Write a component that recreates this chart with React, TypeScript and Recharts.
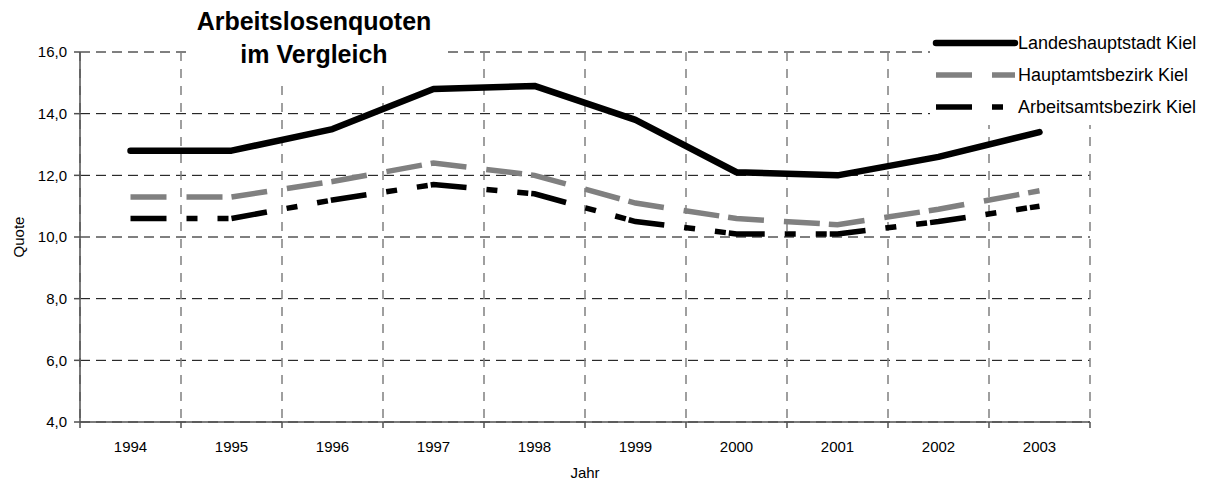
import React from 'react';
import { LineChart, Line, XAxis, YAxis, CartesianGrid, Legend, Label } from 'recharts';

const years = [1994, 1995, 1996, 1997, 1998, 1999, 2000, 2001, 2002, 2003];
const landeshauptstadt = [12.8, 12.8, 13.5, 14.8, 14.9, 13.8, 12.1, 12.0, 12.6, 13.4];
const hauptamtsbezirk = [11.3, 11.3, 11.8, 12.4, 12.0, 11.1, 10.6, 10.4, 10.9, 11.5];
const arbeitsamtsbezirk = [10.6, 10.6, 11.2, 11.7, 11.4, 10.5, 10.1, 10.1, 10.5, 11.0];
const yTicks = [4, 6, 8, 10, 12, 14, 16];
const seriesNames = ['Landeshauptstadt Kiel', 'Hauptamtsbezirk Kiel', 'Arbeitsamtsbezirk Kiel'];
const titleLines = ['Arbeitslosenquoten', 'im Vergleich'];
const xTitle = 'Jahr';
const yTitle = 'Quote';

const data = years.map((year, i) => ({
  year,
  lh: landeshauptstadt[i],
  ha: hauptamtsbezirk[i],
  aa: arbeitsamtsbezirk[i],
}));

const boundaries = [...years.map((y) => y - 0.5), years[years.length - 1] + 0.5];
const xDomain: [number, number] = [boundaries[0], boundaries[boundaries.length - 1]];

const FONT = '"Liberation Sans", Arial, sans-serif';

const renderLegend = (props: any) => {
  const payload = [...(props.payload || [])].sort(
    (a: any, b: any) => seriesNames.indexOf(a.value) - seriesNames.indexOf(b.value)
  );
  return (
    <svg width={280} height={125} style={{ display: 'block' }}>
      {payload.map((entry: any, i: number) => {
        const p = entry.payload || {};
        const cy = 43 + i * 32;
        return (
          <g key={i}>
            <line
              x1={6}
              x2={85}
              y1={cy}
              y2={cy}
              stroke={entry.color}
              strokeWidth={p.strokeWidth}
              strokeDasharray={p.strokeDasharray}
              strokeLinecap={p.strokeLinecap || 'butt'}
            />
            <text x={88} y={cy} dominantBaseline="central" fontSize={18} fill="#000" fontFamily={FONT}>
              {entry.value}
            </text>
          </g>
        );
      })}
    </svg>
  );
};

const YLabel = (props: any) => {
  const vb = props.viewBox || {};
  const cx = vb.x + 18;
  const cy = vb.y + vb.height / 2;
  return (
    <text
      x={cx}
      y={cy}
      transform={`rotate(-90, ${cx}, ${cy})`}
      textAnchor="middle"
      dominantBaseline="central"
      fontSize={15}
      fill="#000"
      fontFamily={FONT}
    >
      {yTitle}
    </text>
  );
};

export default function App() {
  return (
    <div
      style={{
        position: 'absolute',
        left: 0,
        top: 0,
        width: 1210,
        height: 481,
        background: '#fff',
        fontFamily: FONT,
      }}
    >
      <LineChart width={1210} height={481} data={data} margin={{ top: 52, right: 120, bottom: 0, left: 0 }}>
        <CartesianGrid horizontal={true} vertical={false} stroke="#000" strokeDasharray="10 6" />
        <CartesianGrid horizontal={false} vertical={true} stroke="#808080" strokeWidth={1.5} strokeDasharray="9 8" />
        <XAxis
          xAxisId={0}
          type="number"
          dataKey="year"
          domain={xDomain}
          ticks={boundaries}
          interval={0}
          tickFormatter={() => ''}
          height={8}
          tickSize={6}
          axisLine={{ stroke: '#505050', strokeWidth: 1.5 }}
          tickLine={{ stroke: '#505050', strokeWidth: 1.5 }}
          allowDataOverflow
        />
        <XAxis
          xAxisId="yr"
          type="number"
          dataKey="year"
          domain={xDomain}
          ticks={years}
          interval={0}
          height={51}
          axisLine={false}
          tickLine={false}
          tickMargin={5}
          tick={{ fontSize: 15, fill: '#000' }}
          allowDataOverflow
        >
          <Label value={xTitle} position="insideBottom" offset={3} fontSize={15} fill="#000" />
        </XAxis>
        <YAxis
          type="number"
          domain={[4, 16]}
          ticks={yTicks}
          interval={0}
          width={80}
          tickMargin={7}
          tickSize={6}
          tickFormatter={(v: number) => v.toFixed(1).replace('.', ',')}
          tick={{ fontSize: 15, fill: '#000' }}
          axisLine={{ stroke: '#505050', strokeWidth: 1.5 }}
          tickLine={{ stroke: '#505050', strokeWidth: 1.5 }}
          allowDataOverflow
        >
          <Label content={YLabel} />
        </YAxis>
        <Legend
          layout="vertical"
          align="center"
          verticalAlign="middle"
          content={renderLegend}
          wrapperStyle={{ left: 930, top: 0, width: 280, height: 125, background: '#fff' }}
        />
        <Line
          type="linear"
          dataKey="lh"
          name={seriesNames[0]}
          stroke="#000"
          strokeWidth={6.5}
          strokeLinecap="round"
          strokeLinejoin="round"
          dot={false}
          activeDot={false}
          isAnimationActive={false}
        />
        <Line
          type="linear"
          dataKey="ha"
          name={seriesNames[1]}
          stroke="#808080"
          strokeWidth={5.5}
          strokeDasharray="36 20 36 9"
          dot={false}
          activeDot={false}
          isAnimationActive={false}
        />
        <Line
          type="linear"
          dataKey="aa"
          name={seriesNames[2]}
          stroke="#000"
          strokeWidth={5.5}
          strokeDasharray="36 20 11 20 11 3"
          dot={false}
          activeDot={false}
          isAnimationActive={false}
        />
      </LineChart>
      <div
        style={{
          position: 'absolute',
          left: 188,
          top: 0,
          width: 252,
          paddingRight: 8,
          paddingTop: 5,
          height: 78,
          background: '#fff',
          textAlign: 'center',
          fontWeight: 'bold',
          fontSize: 25,
          lineHeight: '33px',
          color: '#000',
          zIndex: 2,
        }}
      >
        {titleLines.map((t, i) => (
          <div key={i}>{t}</div>
        ))}
      </div>
    </div>
  );
}
